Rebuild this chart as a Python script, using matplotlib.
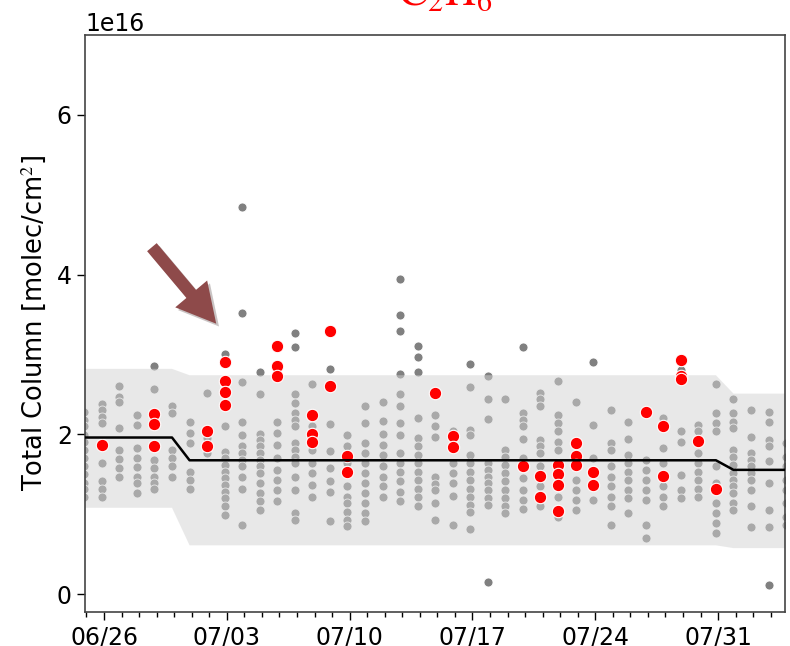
import matplotlib
matplotlib.use("Agg")
import matplotlib.pyplot as plt
import matplotlib.dates as mdates
import matplotlib.patheffects as pe
from matplotlib.patches import FancyArrowPatch
import pandas as pd

plt.rcParams['mathtext.fontset'] = 'stix'

# all retrievals per day (total column, 1e16 molec/cm2)
gray_dates = ['06-25', '06-26', '06-27', '06-28', '06-29', '06-30', '07-01', '07-02',
              '07-03', '07-04', '07-05', '07-06', '07-07', '07-08', '07-09', '07-10',
              '07-11', '07-12', '07-13', '07-14', '07-15', '07-16', '07-17', '07-18',
              '07-19', '07-20', '07-21', '07-22', '07-23', '07-24', '07-25', '07-26',
              '07-27', '07-28', '07-29', '07-30', '07-31', '08-01', '08-02', '08-03',
              '08-04']
gray_cols = [
    [2.28, 2.18, 2.10, 1.99, 1.91, 1.81, 1.70, 1.60, 1.50, 1.39, 1.32, 1.22],
    [2.38, 2.31, 2.22, 2.14, 1.64, 1.41, 1.32, 1.21],
    [2.60, 2.47, 2.41, 2.08, 1.81, 1.69, 1.58, 1.47],
    [2.24, 2.12, 1.83, 1.70, 1.59, 1.47, 1.39, 1.26],
    [2.86, 2.57, 2.20, 1.68, 1.58, 1.47, 1.39, 1.32],
    [2.35, 2.27, 1.81, 1.70, 1.60, 1.47],
    [2.15, 2.02, 1.89, 1.53, 1.43, 1.32],
    [2.52, 1.96, 1.76],
    [3.00, 2.10, 1.78, 1.70, 1.62, 1.53, 1.45, 1.37, 1.28, 1.20, 1.10, 0.99],
    [4.85, 3.52, 2.65, 2.16, 1.99, 1.85, 1.76, 1.68, 1.60, 1.47, 1.32, 0.87],
    [2.78, 2.50, 2.01, 1.93, 1.85, 1.76, 1.68, 1.60, 1.51, 1.39, 1.26, 1.16, 1.05],
    [2.86, 2.16, 2.02, 1.87, 1.70, 1.55, 1.43, 1.30, 1.16],
    [3.27, 3.09, 2.51, 2.39, 2.27, 2.18, 2.10, 1.89, 1.81, 1.72, 1.64, 1.47, 1.30, 1.01, 0.93],
    [2.63, 2.10, 1.80, 1.64, 1.51, 1.37, 1.22],
    [2.82, 2.13, 1.79, 1.58, 1.41, 1.28, 0.91],
    [1.99, 1.85, 1.64, 1.35, 1.22, 1.14, 1.03, 0.93, 0.85],
    [2.35, 2.14, 1.89, 1.76, 1.64, 1.51, 1.39, 1.26, 1.14, 1.01, 0.91],
    [2.40, 2.17, 2.01, 1.87, 1.74, 1.60, 1.47, 1.35, 1.22],
    [3.95, 3.49, 3.29, 2.76, 2.50, 2.35, 2.14, 1.99, 1.76, 1.64, 1.53, 1.41, 1.28, 1.16],
    [3.11, 2.97, 2.78, 2.20, 1.95, 1.85, 1.74, 1.64, 1.53, 1.43, 1.32, 1.22, 1.10],
    [2.24, 2.10, 1.97, 1.47, 1.38, 1.30, 1.14, 0.93],
    [2.04, 1.64, 1.51, 1.39, 1.23, 0.87],
    [2.88, 2.59, 2.06, 1.99, 1.74, 1.64, 1.53, 1.43, 1.32, 1.22, 1.12, 1.03, 0.81],
    [2.73, 2.44, 2.19, 1.64, 1.55, 1.47, 1.39, 1.30, 1.20, 1.12, 0.15],
    [2.44, 1.81, 1.72, 1.62, 1.51, 1.41, 1.30, 1.20, 1.10, 1.01],
    [3.09, 2.27, 2.18, 2.10, 1.94, 1.70, 1.45, 1.30, 1.18, 1.07],
    [2.52, 2.44, 2.35, 1.93, 1.85, 1.76, 1.60, 1.35, 1.10],
    [2.67, 2.24, 2.14, 2.04, 1.91, 1.81, 1.22, 0.97],
    [2.41, 1.43, 1.30, 1.18, 1.05],
    [2.90, 2.12, 1.70, 1.18],
    [2.30, 1.89, 1.81, 1.60, 1.47, 1.35, 1.22, 1.10, 0.87],
    [2.15, 1.94, 1.74, 1.64, 1.53, 1.43, 1.30, 1.20, 1.01],
    [1.68, 1.55, 1.43, 1.30, 1.18, 0.87, 0.70],
    [2.20, 1.83, 1.64, 1.35, 1.22, 1.10],
    [2.81, 2.04, 1.91, 1.49, 1.30, 1.20],
    [2.12, 2.04, 1.76, 1.64, 1.53, 1.43, 1.32, 1.22],
    [2.63, 2.27, 2.14, 2.04, 1.60, 1.39, 1.14, 1.01, 0.89, 0.76],
    [2.44, 2.27, 2.16, 2.08, 1.81, 1.72, 1.62, 1.51, 1.43, 1.35, 1.26, 1.14, 1.05],
    [2.30, 1.97, 1.76, 1.68, 1.60, 1.51, 1.43, 1.30, 1.10, 0.84],
    [2.28, 2.16, 1.93, 1.85, 1.66, 1.39, 1.05, 0.84, 0.11],
    [1.89, 1.72, 1.60, 1.43, 1.30, 1.14, 0.97, 0.87],
]

# coincident retrievals, highlighted
red_dates = ['06-26', '06-29', '07-02', '07-03', '07-06', '07-08', '07-09', '07-10',
             '07-15', '07-16', '07-20', '07-21', '07-22', '07-23', '07-24', '07-27',
             '07-28', '07-29', '07-30', '07-31']
red_cols = [
    [1.87], [2.25, 2.13, 1.85], [2.04, 1.86], [2.90, 2.67, 2.53, 2.37],
    [3.10, 2.86, 2.73], [2.24, 2.01, 1.91], [3.29, 2.60], [1.73, 1.53],
    [2.52], [1.98, 1.84], [1.60], [1.48, 1.22], [1.61, 1.50, 1.36, 1.04],
    [1.89, 1.73, 1.61], [1.53, 1.37], [2.28], [2.11, 1.48],
    [2.93, 2.73, 2.69], [1.92], [1.32],
]

# climatology: mean and spread per period
clim_dates = ['06-20', '06-30', '07-01', '07-31', '08-01', '08-08']
clim_mean = [1.96, 1.96, 1.675, 1.675, 1.555, 1.555]
clim_hi = [2.82, 2.82, 2.74, 2.74, 2.51, 2.51]
clim_lo = [1.08, 1.08, 0.61, 0.61, 0.575, 0.575]

SCALE = 1e16
YEAR = '2018-'
shift = pd.Timedelta(hours=3)


def to_time(d):
    return pd.Timestamp(YEAR + d) - shift


gx, gy = [], []
for d, col in zip(gray_dates, gray_cols):
    gx += [to_time(d)] * len(col)
    gy += [v * SCALE for v in col]

rx, ry = [], []
for d, col in zip(red_dates, red_cols):
    rx += [to_time(d)] * len(col)
    ry += [v * SCALE for v in col]

cx = [to_time(d) for d in clim_dates]

fig = plt.figure(figsize=(7.9, 6.46), dpi=100)
ax = fig.add_axes([0.1076, 0.0526, 0.8861, 0.8932])

ax.scatter(gx, gy, s=42, c='gray', edgecolors='white', linewidths=0.6, zorder=1)
ax.fill_between(cx, [v * SCALE for v in clim_lo], [v * SCALE for v in clim_hi],
                color='lightgray', alpha=0.5, lw=0, zorder=2)
ax.scatter(rx, ry, s=80, c='red', edgecolors='white', linewidths=0.8, zorder=3)
ax.plot(cx, [v * SCALE for v in clim_mean], color='black', lw=1.8, zorder=4)

ax.set_xlim(pd.Timestamp(YEAR + '06-24 22:00'), pd.Timestamp(YEAR + '08-03 19:30'))
ax.set_ylim(-0.225 * SCALE, 7.0 * SCALE)
ax.set_yticks([0, 2e16, 4e16, 6e16])

ax.xaxis.set_major_locator(mdates.WeekdayLocator(byweekday=mdates.TU))
ax.xaxis.set_minor_locator(mdates.DayLocator())
ax.xaxis.set_major_formatter(mdates.DateFormatter('%m/%d'))

ax.tick_params(axis='both', which='major', labelsize=17, length=6, width=1)
ax.tick_params(axis='x', which='minor', length=3.5, width=1)
ax.yaxis.get_offset_text().set_fontsize(17)
ax.set_ylabel('Total Column [molec/cm$^2$]', fontsize=18.5, labelpad=6)
for sp in ax.spines.values():
    sp.set_color('#444444')
    sp.set_linewidth(1.2)

fig.text(0.563, 1 - 5 / 646, r'$\mathrm{C_2H_6}$', color='red', fontsize=31,
         ha='center', va='baseline')

arrow = FancyArrowPatch((0.093, 0.636), (0.19, 0.496), transform=ax.transAxes,
                        arrowstyle='simple,head_length=1.4,head_width=1.5,tail_width=0.45',
                        mutation_scale=20, color='#8e4a4a', lw=0, zorder=6,
                        path_effects=[pe.withSimplePatchShadow(offset=(2, -2), alpha=0.25)])
ax.add_patch(arrow)

fig.savefig('out.png', dpi=100)
